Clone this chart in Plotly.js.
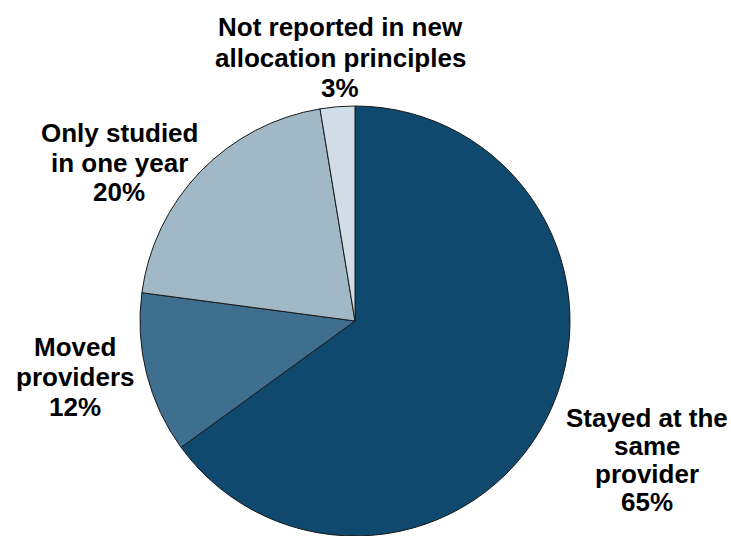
<!DOCTYPE html>
<html>
<head>
<meta charset="utf-8">
<script src="https://cdn.plot.ly/plotly-3.0.1.min.js"></script>
<style>html,body{margin:0;padding:0;background:#fff;}#chart{width:731px;height:536px;}</style>
</head>
<body>
<div id="chart"></div>
<script>
var categories = ["Stayed at the same provider", "Moved providers", "Only studied in one year", "Not reported in new allocation principles"];
var values = [65.0, 12.1, 20.3, 2.6];
var labelLines = [
  ["Stayed at the", "same", "provider"],
  ["Moved", "providers"],
  ["Only studied", "in one year"],
  ["Not reported in new", "allocation principles"]
];
var colors = ["#0f4a6e", "#3e6f8f", "#a1b8c7", "#d0dde6"];

// label placement (pixels): centre x, first line y, line step
var labelPos = [
  {x: 647, y: 418, step: 28},
  {x: 75, y: 347, step: 30},
  {x: 119, y: 133, step: 29.5},
  {x: 340, y: 27, step: 30.5}
];

var W = 731, H = 536;
var total = values.reduce(function(a, b){ return a + b; }, 0);
var annotations = [];
categories.forEach(function(c, i){
  var lines = labelLines[i].concat([Math.round(values[i] / total * 100) + "%"]);
  lines.forEach(function(t, j){
    annotations.push({
      xref: "paper", yref: "paper",
      x: labelPos[i].x / W,
      y: 1 - (labelPos[i].y + j * labelPos[i].step) / H,
      xanchor: "center", yanchor: "middle",
      text: t, showarrow: false,
      font: {family: "Liberation Sans, Arial, sans-serif", size: 26, color: "#000", weight: "bold"}
    });
  });
});

var trace = {
  type: "pie",
  labels: categories,
  values: values,
  sort: false,
  direction: "clockwise",
  rotation: 0,
  textinfo: "none",
  hoverinfo: "label+percent",
  marker: {colors: colors, line: {color: "#1a1a1a", width: 1}},
  domain: {x: [(355 - 216) / W, (355 + 216) / W], y: [0, 430 / H]}
};

var layout = {
  width: W, height: H,
  margin: {l: 0, r: 0, t: 0, b: 0},
  showlegend: false,
  paper_bgcolor: "#fff",
  annotations: annotations
};

Plotly.newPlot("chart", [trace], layout, {displayModeBar: false, staticPlot: true});
</script>
</body>
</html>
